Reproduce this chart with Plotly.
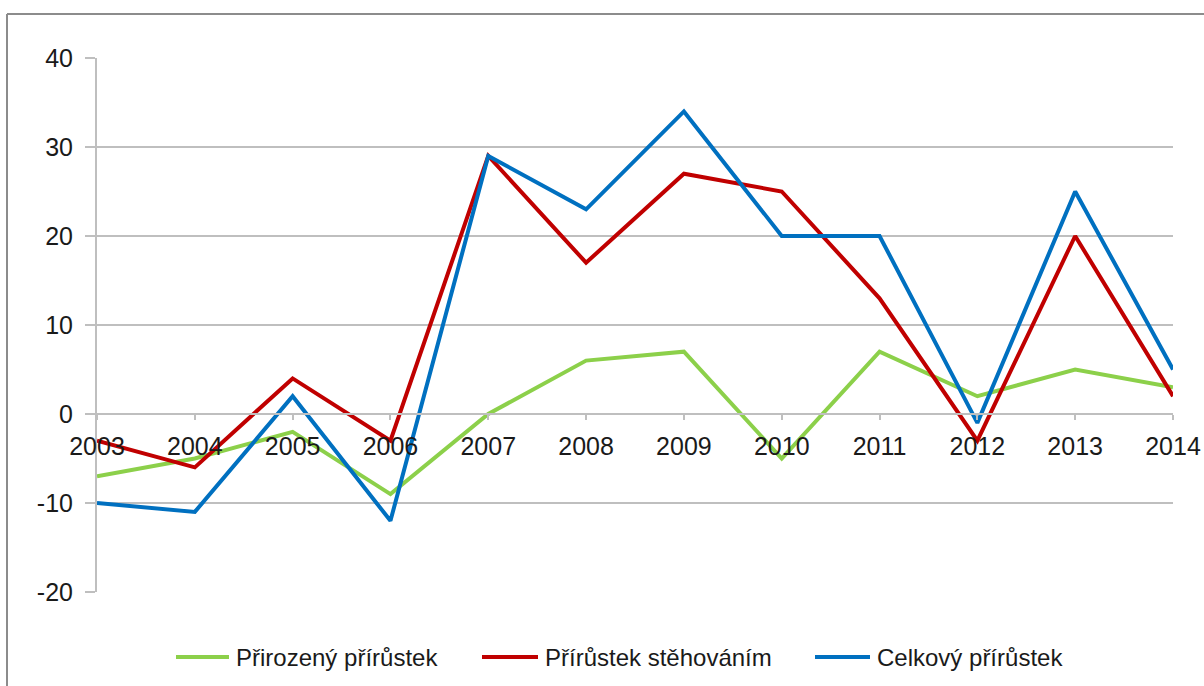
import plotly.graph_objects as go

years = [2003, 2004, 2005, 2006, 2007, 2008, 2009, 2010, 2011, 2012, 2013, 2014]
prirozeny = [-7, -5, -2, -9, 0, 6, 7, -5, 7, 2, 5, 3]
stehovanim = [-3, -6, 4, -3, 29, 17, 27, 25, 13, -3, 20, 2]
celkovy = [-10, -11, 2, -12, 29, 23, 34, 20, 20, -1, 25, 5]
y_ticks = [-20, -10, 0, 10, 20, 30, 40]

series = [
    ("Přirozený přírůstek", prirozeny, "#8CD04A"),
    ("Přírůstek stěhováním", stehovanim, "#C00000"),
    ("Celkový přírůstek", celkovy, "#0070C0"),
]

W, H = 1204, 686
L, R, T, B = 97, 31, 58, 94
pw, ph = W - L - R, H - T - B

def px(x):
    return (x - L) / pw

def py(y):
    return (H - B - y) / ph

fig = go.Figure()
for name, vals, col in series:
    fig.add_trace(go.Scatter(x=years, y=vals, name=name, mode="lines",
                             line=dict(color=col, width=4), showlegend=False))

# manual legend (long line samples as in the reference)
leg_lines = [(176, 229), (482, 538), (815, 870)]
leg_y = 657
shapes = [
    dict(type="line", xref="paper", yref="paper", x0=px(7), x1=px(1210), y0=py(14), y1=py(14),
         line=dict(color="#8C8C8C", width=2)),
    dict(type="line", xref="paper", yref="paper", x0=px(7), x1=px(7), y0=py(14), y1=py(700),
         line=dict(color="#8C8C8C", width=2)),
]
annotations = []
for (name, vals, col), (a, b) in zip(series, leg_lines):
    shapes.append(dict(type="line", xref="paper", yref="paper", x0=px(a), x1=px(b),
                       y0=py(leg_y), y1=py(leg_y), line=dict(color=col, width=4)))
    annotations.append(dict(text=name, xref="paper", yref="paper", x=px(b + 5), y=py(leg_y),
                            xanchor="left", yanchor="middle", showarrow=False,
                            font=dict(size=24, color="#1a1a1a")))

fig.update_layout(
    width=W, height=H,
    margin=dict(l=L, r=R, t=T, b=B, autoexpand=False),
    paper_bgcolor="white", plot_bgcolor="white",
    font=dict(family="Liberation Sans, Arial, sans-serif", size=25, color="#1a1a1a"),
    showlegend=False,
    xaxis=dict(range=[2003, 2014], tickvals=years, ticktext=[str(y) for y in years],
               anchor="free", position=1/3, showgrid=False, zeroline=False,
               showline=True, linecolor="#BFBFBF", linewidth=2,
               ticks="outside", ticklen=5, tickcolor="#BFBFBF", tickwidth=1.5,
               ticklabelstandoff=5, tickfont=dict(size=25)),
    yaxis=dict(range=[-20, 40], tickvals=y_ticks, ticktext=[str(v) for v in y_ticks],
               showgrid=True, gridcolor="#BFBFBF",
               gridwidth=2, zeroline=False, showline=True, linecolor="#BFBFBF",
               linewidth=2, ticks="outside", ticklen=10, tickcolor="#BFBFBF",
               tickwidth=1.5, ticklabelstandoff=7, tickfont=dict(size=25)),
    shapes=shapes,
    annotations=annotations,
)

fig.write_html("out.html", config={"displayModeBar": False},
               post_script="document.body.style.margin='0';document.body.style.overflow='hidden';")
